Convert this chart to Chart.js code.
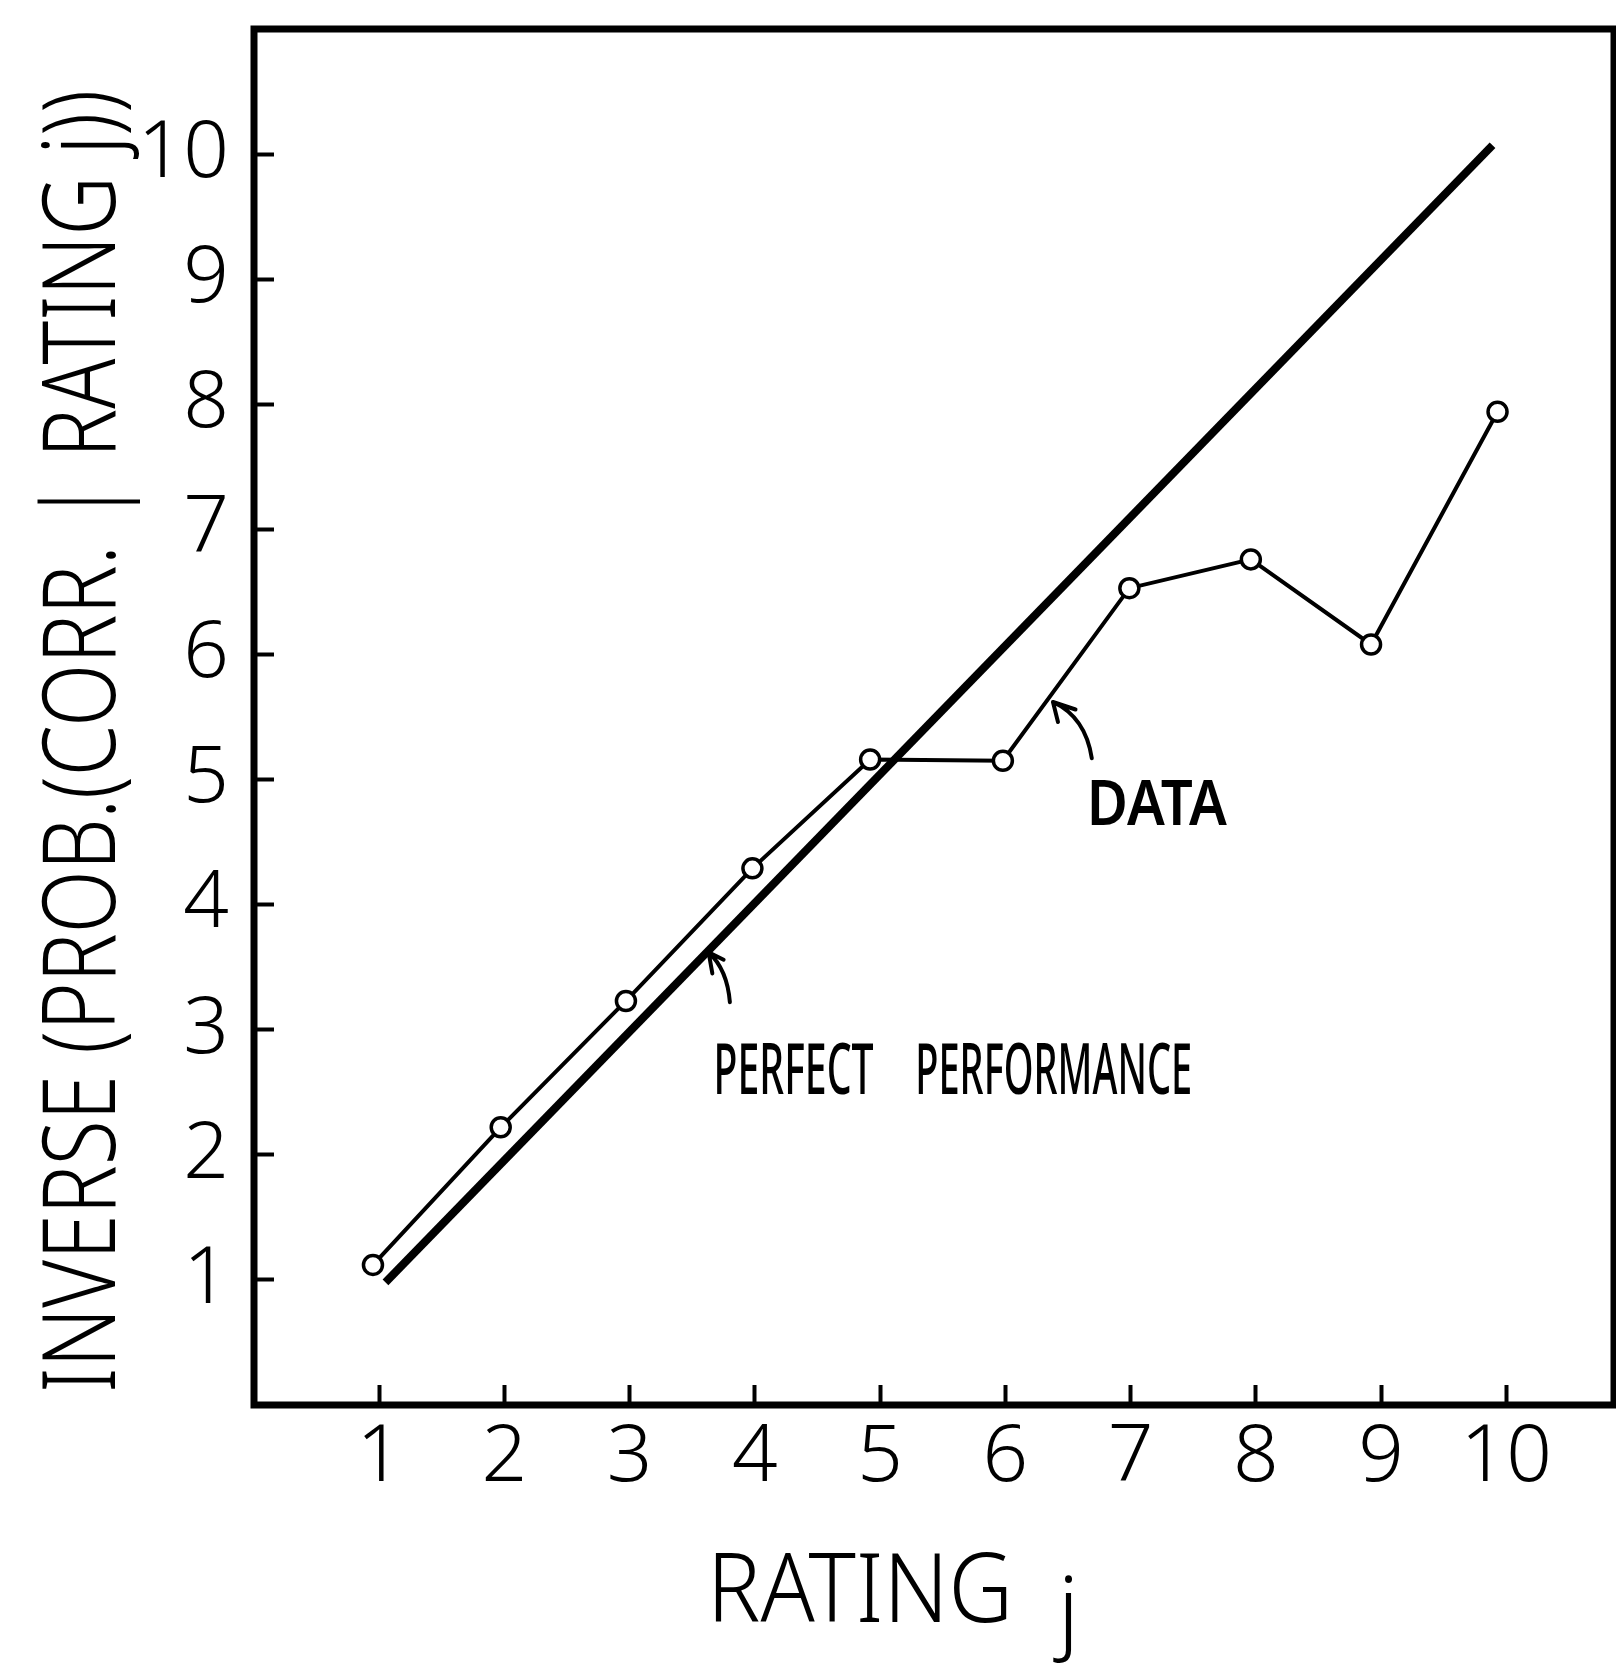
<!DOCTYPE html>
<html>
<head>
<meta charset="utf-8">
<script src="https://cdn.jsdelivr.net/npm/chart.js@4.4.1/dist/chart.umd.min.js"></script>
<style>
  html, body { margin: 0; padding: 0; background: #fff; }
  canvas { display: block; }
</style>
</head>
<body>
<canvas id="myChart" width="1616" height="1667"></canvas>
<script>
// values (x = rating j, y = inverse prob.)
const xTickValues = [1, 2, 3, 4, 5, 6, 7, 8, 9, 10];
const xTickLabels = ['1', '2', '3', '4', '5', '6', '7', '8', '9', '10'];
const yTickValues = [1, 2, 3, 4, 5, 6, 7, 8, 9, 10];
const yTickLabels = ['1', '2', '3', '4', '5', '6', '7', '8', '9', '10'];

const dataX = [0.95, 1.97, 2.97, 3.98, 4.92, 5.98, 6.99, 7.96, 8.92, 9.93];
const dataY = [1.12, 2.22, 3.23, 4.29, 5.16, 5.15, 6.53, 6.76, 6.08, 7.94];

const perfectX = [1.05, 9.89];
const perfectY = [0.98, 10.07];

const xTitle = 'RATING';
const xTitleSub = 'j';
const yTitle = 'INVERSE (PROB.(CORR. | RATING j))';

const FONT = '"Noto Sans", "DejaVu Sans", sans-serif';

// text labels and arrows inside the plot, anchored in data units
const notes = [
  { text: 'DATA', x: 6.65, y: 4.64, width: 140, size: 63, weight: 600 },
  { text: 'PERFECT', x: 3.67, y: 2.49, width: 160, size: 71, weight: 500 },
  { text: 'PERFORMANCE', x: 5.28, y: 2.49, width: 277, size: 71, weight: 500 }
];
const arrows = [
  { from: [6.69, 5.17], ctrl: [6.64, 5.50], tip: [6.38, 5.62], barbs: [[6.56, 5.56], [6.42, 5.46]] },
  { from: [3.80, 3.22], ctrl: [3.78, 3.48], tip: [3.63, 3.62], barbs: [[3.75, 3.56], [3.66, 3.45]] }
];

// draw text squeezed/stretched to a given width
function fitText(ctx, text, x, y, width, size, weight) {
  ctx.font = weight + ' ' + size + 'px ' + FONT;
  const w = ctx.measureText(text).width;
  ctx.save();
  ctx.translate(x, y);
  ctx.scale(width / w, 1);
  ctx.fillText(text, 0, 0);
  ctx.restore();
}

// keep the plot box where the figure has it (no auto padding for labels)
function noPad(s) {
  s.paddingTop = 0;
  s.paddingBottom = 0;
  s.paddingLeft = 0;
  s.paddingRight = 0;
}

const figurePlugin = {
  id: 'figure',
  afterDraw(chart) {
    const ctx = chart.ctx;
    const a = chart.chartArea;
    const sx = chart.scales.x;
    const sy = chart.scales.y;

    ctx.save();
    ctx.strokeStyle = '#000';
    ctx.fillStyle = '#000';

    // frame
    ctx.lineWidth = 7;
    ctx.lineJoin = 'miter';
    ctx.strokeRect(a.left, a.top, a.right - a.left, a.bottom - a.top);

    // axis titles
    ctx.textAlign = 'left';
    ctx.textBaseline = 'alphabetic';
    fitText(ctx, xTitle, 707, 1622, 306, 96, 300);
    ctx.font = '300 90px ' + FONT;
    ctx.fillText(xTitleSub, 1058, 1642);

    ctx.save();
    ctx.translate(115, 1393);
    ctx.rotate(-Math.PI / 2);
    fitText(ctx, yTitle, 0, 0, 1303, 101, 300);
    ctx.restore();

    // notes
    notes.forEach(n => {
      fitText(ctx, n.text, sx.getPixelForValue(n.x), sy.getPixelForValue(n.y), n.width, n.size, n.weight);
    });

    // arrows
    ctx.lineWidth = 4;
    ctx.lineCap = 'round';
    ctx.lineJoin = 'round';
    const px = p => [sx.getPixelForValue(p[0]), sy.getPixelForValue(p[1])];
    arrows.forEach(ar => {
      const f = px(ar.from), c = px(ar.ctrl), t = px(ar.tip);
      ctx.beginPath();
      ctx.moveTo(f[0], f[1]);
      ctx.quadraticCurveTo(c[0], c[1], t[0], t[1]);
      ar.barbs.forEach(b => {
        const q = px(b);
        ctx.moveTo(t[0], t[1]);
        ctx.lineTo(q[0], q[1]);
      });
      ctx.stroke();
    });

    ctx.restore();
  }
};

const tickFont = { family: FONT, size: 80, weight: '300' };

const ctx = document.getElementById('myChart');

new Chart(ctx, {
  type: 'line',
  data: {
    datasets: [
      {
        label: 'DATA',
        data: dataX.map((x, i) => ({ x: x, y: dataY[i] })),
        borderColor: '#000',
        borderWidth: 4,
        pointRadius: 9.5,
        pointBorderWidth: 3.5,
        pointBackgroundColor: '#fff',
        pointBorderColor: '#000',
        tension: 0
      },
      {
        label: 'PERFECT PERFORMANCE',
        data: perfectX.map((x, i) => ({ x: x, y: perfectY[i] })),
        borderColor: '#000',
        borderWidth: 8,
        pointRadius: 0,
        tension: 0
      }
    ]
  },
  options: {
    responsive: false,
    animation: false,
    devicePixelRatio: 1,
    layout: { autoPadding: false, padding: { top: 29, right: 2, left: 0, bottom: 0 } },
    plugins: {
      legend: { display: false },
      tooltip: { enabled: false }
    },
    scales: {
      x: {
        type: 'linear',
        min: 0,
        max: 10.86,
        afterBuildTicks: s => { s.ticks = xTickValues.map(v => ({ value: v })); },
        afterFit: s => { s.height = 262; noPad(s); },
        border: { display: false, width: 7 },
        grid: { drawOnChartArea: false, drawTicks: true, tickLength: -20, tickWidth: 4, tickColor: '#000' },
        ticks: {
          padding: 25,
          color: '#000',
          font: tickFont,
          maxRotation: 0,
          autoSkip: false,
          callback: (v, i) => xTickLabels[i]
        }
      },
      y: {
        min: 0,
        max: 11,
        afterBuildTicks: s => { s.ticks = yTickValues.map(v => ({ value: v })); },
        afterFit: s => { s.width = 254; noPad(s); },
        border: { display: false, width: 7 },
        grid: { drawOnChartArea: false, drawTicks: true, tickLength: -20, tickWidth: 4, tickColor: '#000' },
        ticks: {
          padding: 45,
          color: '#000',
          font: tickFont,
          autoSkip: false,
          callback: (v, i) => yTickLabels[i]
        }
      }
    }
  },
  plugins: [figurePlugin]
});
</script>
</body>
</html>
